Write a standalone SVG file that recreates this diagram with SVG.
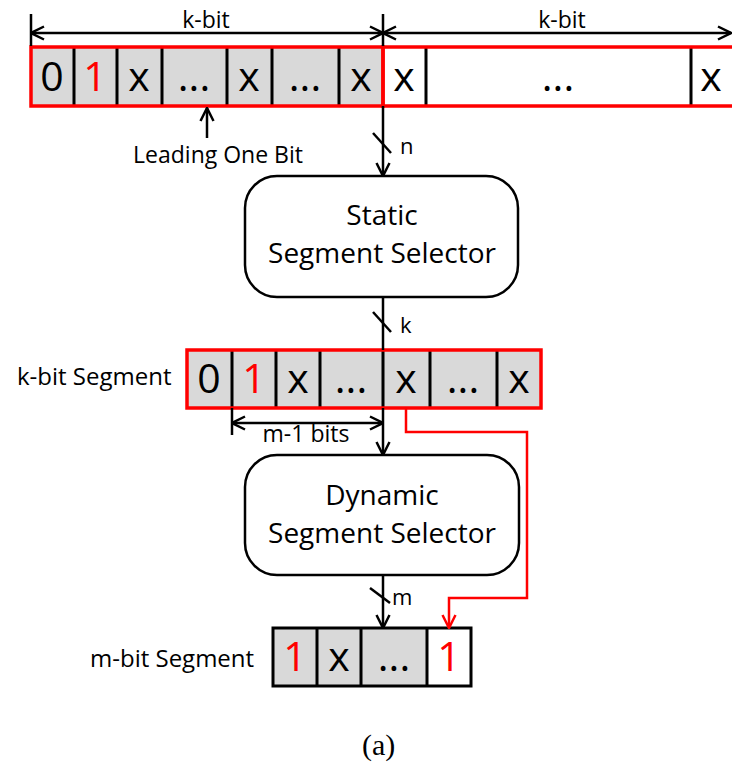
<svg xmlns="http://www.w3.org/2000/svg" width="732" height="762" viewBox="0 0 732 762">
<style>
  .lbl { font-family: "Open Sans", Lato, sans-serif; fill: #000; }
  .cellt { font-family: "Open Sans", Lato, sans-serif; font-size: 41px; text-anchor: middle; fill: #000; }
  .red { fill: #ff0000; }
  .cell { fill: #d9d9d9; stroke: none; }
  .div { stroke: #000; stroke-width: 3; fill: none; }
  .rout { fill: none; stroke: #ff0000; stroke-width: 3.5; }
  .box { fill: #fff; stroke: #000; stroke-width: 2.5; }
  .ln { fill: none; stroke: #000; stroke-width: 2.5; }
  .rln { fill: none; stroke: #ff0000; stroke-width: 2.5; }
  .mid { text-anchor: middle; }
</style>
<defs>
  <marker id="ah" markerUnits="userSpaceOnUse" viewBox="0 0 16 16" refX="15" refY="8" markerWidth="16" markerHeight="16" orient="auto-start-reverse">
    <path d="M2,1.5 L15,8 L2,14.5" fill="none" stroke="#000" stroke-width="2.5"/>
  </marker>
  <marker id="ahr" markerUnits="userSpaceOnUse" viewBox="0 0 16 16" refX="15" refY="8" markerWidth="16" markerHeight="16" orient="auto">
    <path d="M2,1.5 L15,8 L2,14.5" fill="none" stroke="#ff0000" stroke-width="2.5"/>
  </marker>
</defs>
<rect width="732" height="762" fill="#fff"/>

<!-- Top n-bit register -->
<g id="input-register">
  <rect class="cell" x="31" y="47" width="352" height="59"/>
  <path class="div" d="M74,47V106 M117,47V106 M162,47V106 M227,47V106 M272,47V106 M339,47V106 M426,47V106 M691,47V106"/>
  <rect class="rout" x="31" y="47" width="352" height="59"/>
  <rect class="rout" x="383" y="47" width="360" height="59"/>
  <text class="cellt" x="52" y="91">0</text>
  <text class="cellt red" x="95" y="91">1</text>
  <text class="cellt" x="139" y="91">x</text>
  <text class="cellt" x="194" y="91">...</text>
  <text class="cellt" x="249" y="91">x</text>
  <text class="cellt" x="305" y="91">...</text>
  <text class="cellt" x="361" y="91">x</text>
  <text class="cellt" x="404" y="91">x</text>
  <text class="cellt" x="558" y="91">...</text>
  <text class="cellt" x="711" y="91">x</text>
  <text class="lbl mid" x="206" y="28" font-size="23">k-bit</text>
  <text class="lbl mid" x="562" y="28" font-size="23">k-bit</text>
  <text class="lbl mid" x="218" y="163" font-size="23">Leading One Bit</text>
</g>

<g id="static-selector">
  <rect class="box" x="245" y="176" width="273" height="121" rx="32"/>
  <text class="lbl mid" x="382" y="225" font-size="28">Static</text>
  <text class="lbl mid" x="382" y="263" font-size="28">Segment Selector</text>
</g>

<g id="k-bit-segment">
  <rect class="cell" x="187" y="350" width="354" height="58"/>
  <path class="div" d="M232,350V408 M276,350V408 M320,350V408 M383,350V408 M430,350V408 M497,350V408"/>
  <rect class="rout" x="187" y="350" width="354" height="58"/>
  <text class="cellt" x="209" y="393">0</text>
  <text class="cellt red" x="254" y="393">1</text>
  <text class="cellt" x="298" y="393">x</text>
  <text class="cellt" x="351" y="393">...</text>
  <text class="cellt" x="406" y="393">x</text>
  <text class="cellt" x="463" y="393">...</text>
  <text class="cellt" x="519" y="393">x</text>
  <text class="lbl" x="17" y="385" font-size="24">k-bit Segment</text>
  <text class="lbl mid" x="306" y="442" font-size="23">m-1 bits</text>
</g>

<g id="dynamic-selector">
  <rect class="box" x="245" y="455" width="274" height="120" rx="32"/>
  <text class="lbl mid" x="382" y="505" font-size="28">Dynamic</text>
  <text class="lbl mid" x="382" y="543" font-size="28">Segment Selector</text>
</g>

<g id="m-bit-segment">
  <rect class="cell" x="273" y="628" width="154" height="58"/>
  <rect x="427" y="628" width="44" height="58" fill="#fff"/>
  <path class="div" d="M317,628V686 M361,628V686 M427,628V686"/>
  <rect x="273" y="628" width="198" height="58" fill="none" stroke="#000" stroke-width="3"/>
  <text class="cellt red" x="295" y="671">1</text>
  <text class="cellt" x="339" y="671">x</text>
  <text class="cellt" x="394" y="671">...</text>
  <text class="cellt red" x="449" y="671">1</text>
  <text class="lbl" x="90" y="667" font-size="24">m-bit Segment</text>
</g>

<g id="connectors">
  <!-- dimension lines -->
  <path class="ln" d="M31,14V46 M383,14V46"/>
  <path class="ln" d="M31,33H383" marker-start="url(#ah)" marker-end="url(#ah)"/>
  <path class="ln" d="M383,33H731" marker-start="url(#ah)" marker-end="url(#ah)"/>
  <path class="ln" d="M232,408V435"/>
  <path class="ln" d="M232,423H383" marker-start="url(#ah)" marker-end="url(#ah)"/>
  <!-- leading one pointer -->
  <path class="ln" d="M207,138V108" marker-end="url(#ah)"/>
  <!-- data path -->
  <path class="ln" d="M383,106V176" marker-end="url(#ah)"/>
  <path class="ln" d="M373,133L391,153"/>
  <text class="lbl" x="400" y="154" font-size="22">n</text>
  <path class="ln" d="M383,297V350"/>
  <path class="ln" d="M373,312L391,332"/>
  <text class="lbl" x="400" y="333" font-size="22">k</text>
  <path class="ln" d="M383,408V455" marker-end="url(#ah)"/>
  <path class="ln" d="M383,575V628" marker-end="url(#ah)"/>
  <path class="ln" d="M370,588L390,603"/>
  <text class="lbl" x="392" y="605" font-size="22">m</text>
  <!-- red path -->
  <path class="rln" d="M406,408V432H527V598H449V628" marker-end="url(#ahr)"/>
  <text x="362" y="755" font-family="Liberation Serif, serif" font-size="30" fill="#000">(a)</text>
</g>
</svg>
